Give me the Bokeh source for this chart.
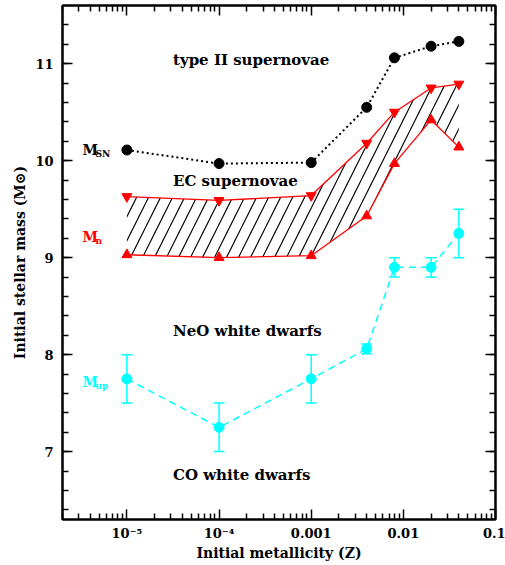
import numpy as np
from bokeh.plotting import figure
from bokeh.models import (LogAxis, LinearAxis, FixedTicker, Whisker, ColumnDataSource,
                          Range1d, TeeHead, Label)
from bokeh.embed import file_html
from bokeh.resources import INLINE
from bokeh.core.properties import value

# ---- data ----
Z = [1e-5, 1e-4, 1e-3, 0.004, 0.008, 0.02, 0.04]
M_SN = [10.11, 9.97, 9.98, 10.55, 11.06, 11.18, 11.23]
M_N_UPPER = [9.63, 9.59, 9.64, 10.18, 10.50, 10.75, 10.79]
M_N_LOWER = [9.03, 9.00, 9.02, 9.43, 9.97, 10.42, 10.14]
M_UP = [7.75, 7.25, 7.75, 8.06, 8.90, 8.90, 9.25]
M_UP_ERR = [0.25, 0.25, 0.25, 0.05, 0.10, 0.10, 0.25]

X_TICKS = [1e-5, 1e-4, 1e-3, 1e-2, 1e-1]
X_TICK_LABELS = ["10⁻⁵", "10⁻⁴", "0.001", "0.01", "0.1"]
Y_TICKS = [7, 8, 9, 10, 11]

REGION_LABELS = ["type II supernovae", "EC supernovae", "NeO white dwarfs", "CO white dwarfs"]
REGION_X = [10 ** -4.5] * 4
REGION_Y = [11.04, 9.79, 8.245, 6.76]

SERIES_NAMES = ["M", "M", "M"]
SERIES_SUBS = ["SN", "n", "up"]
SERIES_COLORS = ["black", "#ff0000", "#00ffff"]
SERIES_LABEL_X = [3.3e-6, 3.3e-6, 3.3e-6]
SERIES_LABEL_Y = [10.11, 9.21, 7.72]

FONT = "DejaVu Serif"
RED = "#ff0000"
CYAN = "#00ffff"

p = figure(width=505, height=565, x_axis_type="log",
           x_range=Range1d(2e-6, 0.1), y_range=Range1d(6.3, 11.6),
           output_backend="svg", toolbar_location=None,
           min_border_left=62, min_border_right=10, min_border_top=5, min_border_bottom=46)
p.grid.visible = False
p.background_fill_color = "white"
p.border_fill_color = "white"
p.outline_line_color = "black"
p.outline_line_width = 2

x_minor = [m * 10.0 ** k for k in range(-6, -1) for m in range(2, 10) if 2e-6 <= m * 10.0 ** k <= 0.1]
y_minor = [round(v, 1) for v in np.arange(6.4, 11.6, 0.2)]
xt = FixedTicker(ticks=X_TICKS, minor_ticks=x_minor)
yt = FixedTicker(ticks=Y_TICKS, minor_ticks=y_minor)


def style_axis(ax, show_labels=True):
    ax.axis_line_width = 2
    ax.axis_line_color = "black"
    ax.major_tick_in = 10
    ax.major_tick_out = 0
    ax.minor_tick_in = 6
    ax.minor_tick_out = 0
    ax.major_tick_line_width = 1.5
    ax.minor_tick_line_width = 1.5
    ax.major_tick_line_color = "black"
    ax.minor_tick_line_color = "black"
    ax.major_label_text_font = FONT
    if show_labels:
        ax.major_label_text_color = "black"
        ax.major_label_text_font_size = "13px"
        ax.major_label_text_font_style = "bold"
    else:
        ax.major_label_text_alpha = 0
        ax.major_label_text_font_size = "1px"
    ax.axis_label_text_font = FONT
    ax.axis_label_text_font_style = "bold"
    ax.axis_label_text_color = "black"


xa = p.xaxis[0]
xa.ticker = xt
xa.major_label_overrides = {t: l for t, l in zip(X_TICKS, X_TICK_LABELS)}
style_axis(xa)
xa.major_label_standoff = 6
xa.axis_label = "Initial metallicity (Z)"
xa.axis_label_text_font_size = "14px"
xa.axis_label_standoff = 1

ya = p.yaxis[0]
ya.ticker = yt
style_axis(ya)
ya.major_label_standoff = 9
ya.axis_label = "Initial stellar mass (M⊙)"
ya.axis_label_text_font_size = "14px"
ya.axis_label_standoff = 4

top = LogAxis(ticker=xt)
style_axis(top, False)
top.major_label_standoff = 0
p.add_layout(top, "above")
right = LinearAxis(ticker=yt)
style_axis(right, False)
right.major_label_standoff = 0
p.add_layout(right, "right")

# hatched EC supernova band
p.varea(x=Z, y1=M_N_LOWER, y2=M_N_UPPER, fill_alpha=0, fill_color=None,
        hatch_pattern="/", hatch_color="black", hatch_weight=1.2, hatch_scale=24)

# M_SN
p.line(Z, M_SN, line_color="black", line_width=2, line_dash="2 3")
p.scatter(Z, M_SN, marker="circle", size=10, color="black")

# M_n
p.line(Z, M_N_UPPER, line_color=RED, line_width=1.3)
p.scatter(Z, M_N_UPPER, marker="inverted_triangle", size=10, color=RED)
p.line(Z, M_N_LOWER, line_color=RED, line_width=1.3)
p.scatter(Z, M_N_LOWER, marker="triangle", size=10, color=RED)

# M_up
up_src = ColumnDataSource(dict(x=Z, y=M_UP,
                               upper=[v + e for v, e in zip(M_UP, M_UP_ERR)],
                               lower=[v - e for v, e in zip(M_UP, M_UP_ERR)]))
p.line("x", "y", source=up_src, line_color=CYAN, line_width=1.5, line_dash="7 5")
p.add_layout(Whisker(source=up_src, base="x", upper="upper", lower="lower",
                     line_color=CYAN, line_width=1.5,
                     upper_head=TeeHead(size=11, line_color=CYAN, line_width=1.5),
                     lower_head=TeeHead(size=11, line_color=CYAN, line_width=1.5)))
p.scatter("x", "y", source=up_src, marker="circle", size=10, color=CYAN)

# region labels
p.text(x=REGION_X, y=REGION_Y, text=REGION_LABELS, text_font=value(FONT),
       text_font_size="15px", text_font_style="bold", text_color="black",
       text_align="left", text_baseline="alphabetic")

# series labels with subscripts
for name, sub, col, lx, ly in zip(SERIES_NAMES, SERIES_SUBS, SERIES_COLORS,
                                  SERIES_LABEL_X, SERIES_LABEL_Y):
    p.add_layout(Label(x=lx, y=ly, text=name, text_font=FONT, text_font_size="14px",
                       text_font_style="bold", text_color=col, text_baseline="alphabetic"))
    p.add_layout(Label(x=lx, y=ly, x_offset=13, y_offset=-4, text=sub, text_font=FONT,
                       text_font_size="9px", text_font_style="bold", text_color=col,
                       text_baseline="alphabetic"))

open("out.html", "w").write(file_html(p, INLINE))
